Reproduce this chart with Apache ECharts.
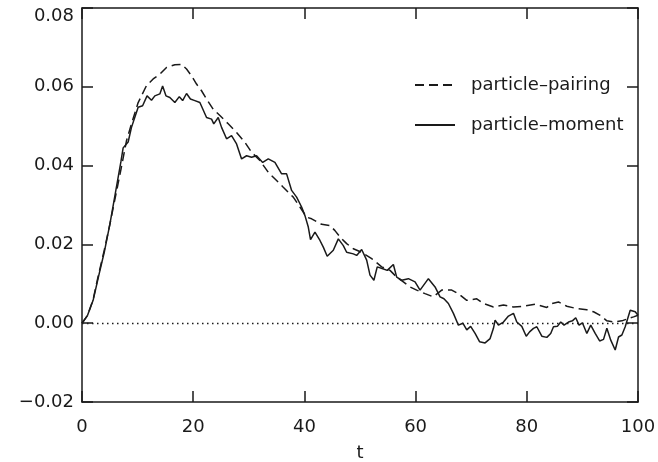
<!DOCTYPE html>
<html>
<head>
<meta charset="utf-8">
<script src="https://cdn.jsdelivr.net/npm/echarts@6/dist/echarts.min.js"></script>
<style>
  html, body { margin: 0; padding: 0; background: #fff; }
  #chart { width: 658px; height: 462px; }
</style>
</head>
<body>
<div id="chart"></div>
<script>
// particle-pairing (dashed)
const tPairing = [0, 1, 2, 3, 4, 5, 6, 7, 8, 8.9,
  10.1, 11.6, 12.8, 14, 15.2, 16.7, 17.9, 18.8, 19.7, 20.6,
  21.5, 22.4, 23.6, 24.8, 26.3, 27.8, 29.3, 30.5, 32, 33.5,
  35, 36.2, 38, 39.2, 40.4, 41.3, 43.1, 44.6, 45.5, 46.4,
  47.6, 48.8, 50.3, 52.1, 53.9, 55.4, 56.6, 57.8, 59, 60.2,
  61.7, 63.2, 64.7, 66.5, 67.7, 69.2, 71, 72.2, 74, 75.8,
  77.6, 79.4, 81.5, 83.6, 84.5, 85.7, 87.2, 89, 90.8, 92,
  93.2, 94.4, 95.6, 97.1, 98.3, 99.2, 100];
const vPairing = [0, 0.002, 0.006, 0.0125, 0.0185, 0.025, 0.032, 0.039, 0.0463, 0.0506,
  0.056, 0.0603, 0.062, 0.0632, 0.0649, 0.0656, 0.0657, 0.0645, 0.0628, 0.0607,
  0.059, 0.0569, 0.0543, 0.0527, 0.0506, 0.0484, 0.0459, 0.0434, 0.0413, 0.0383,
  0.0362, 0.0345, 0.032, 0.0295, 0.0269, 0.0265, 0.0251, 0.0248, 0.0235, 0.0219,
  0.0202, 0.0189, 0.018, 0.0164, 0.0143, 0.0134, 0.0117, 0.0105, 0.0092, 0.0084,
  0.0075, 0.0067, 0.0084, 0.0084, 0.0075, 0.0058, 0.0062, 0.005, 0.0041, 0.0046,
  0.0041, 0.0043, 0.0048, 0.004, 0.005, 0.0054, 0.0043, 0.0037, 0.0034, 0.0029,
  0.002, 0.0006, 0.0003, 0.0006, 0.0012, 0.0016, 0.002];

// particle-moment (solid)
const tMoment = [0, 1, 2, 3, 4, 5, 6, 7, 7.4, 8.3,
  8.9, 10.1, 10.9, 11.7, 12.5, 13.1, 14, 14.5, 15.1, 15.8,
  16.7, 17.5, 18.1, 18.8, 19.5, 20.3, 21.2, 22.4, 23.3, 23.7,
  24.5, 25.1, 26, 26.9, 27.8, 28.7, 29.6, 30.5, 31.4, 32.5,
  33.5, 34.7, 35.9, 36.8, 37.7, 38.6, 39.5, 40.1, 40.7, 41.1,
  41.9, 42.8, 43.4, 44.1, 45.2, 46.1, 47, 47.6, 48.8, 49.4,
  50.3, 51.2, 51.8, 52.5, 53.1, 54.1, 54.9, 56, 56.6, 57.5,
  58.7, 59.9, 60.8, 62.3, 63.5, 64.4, 65.1, 65.9, 66.8, 67.7,
  68.5, 69.2, 69.9, 70.7, 71.5, 72.5, 73.4, 74, 74.3, 74.9,
  75.8, 76.7, 77.6, 78.2, 79.1, 79.9, 80.5, 81.2, 81.8, 82.7,
  83.6, 84.3, 84.8, 85.5, 86.1, 86.7, 87.5, 88.2, 88.8, 89.4,
  90, 90.8, 91.5, 92.3, 93.1, 93.8, 94.4, 95.1, 95.9, 96.5,
  97.1, 97.7, 98.6, 99.5, 100];
const vMoment = [0, 0.002, 0.0058, 0.012, 0.018, 0.025, 0.033, 0.041, 0.0445, 0.046,
  0.0497, 0.0548, 0.0552, 0.0577, 0.0566, 0.0577, 0.0582, 0.0602, 0.0577, 0.0573,
  0.056, 0.0575, 0.0565, 0.0583, 0.0569, 0.0565, 0.056, 0.0522, 0.0518, 0.0506,
  0.0522, 0.0497, 0.0468, 0.0476, 0.0455, 0.0417, 0.0425, 0.0421, 0.0425, 0.0408,
  0.0417, 0.0408, 0.0379, 0.0379, 0.0337, 0.032, 0.0295, 0.0273, 0.0244, 0.0212,
  0.0231, 0.021, 0.0193, 0.017, 0.0185, 0.0214, 0.0197, 0.018, 0.0176, 0.0172,
  0.0187, 0.016, 0.0122, 0.0109, 0.0143, 0.0138, 0.0134, 0.0149, 0.0117, 0.0109,
  0.0113, 0.0105, 0.0084, 0.0113, 0.0092, 0.0067, 0.0062, 0.005, 0.0025, -0.0005,
  0, -0.0017, -0.0008, -0.0026, -0.0047, -0.005, -0.0039, -0.0013, 0.0008, -0.0005,
  0.0003, 0.0018, 0.0025, 0.0003, -0.0008, -0.0033, -0.0022, -0.0013, -0.0009, -0.0033,
  -0.0036, -0.0026, -0.0009, -0.0008, 0.0003, -0.0005, 0.0003, 0.0006, 0.0014, -0.0005,
  0.0001, -0.0026, -0.0005, -0.0026, -0.0045, -0.0041, -0.0013, -0.0043, -0.0068, -0.0035,
  -0.003, -0.0009, 0.0033, 0.0029, 0.002];

const seriesNames = ['particle–pairing', 'particle–moment'];
const xTicks = { min: 0, max: 100, interval: 20 };
const yTicks = { min: -0.02, max: 0.08, interval: 0.02 };

const FONT = 'DejaVu Sans';
const INK = '#1a1a1a';

const zip = (xs, ys) => xs.map((x, i) => [x, ys[i]]);

const axisLine = { show: true, onZero: false, lineStyle: { color: INK, width: 1.5 } };
const tickIn = { show: true, inside: true, length: 11, lineStyle: { color: INK, width: 1.5 } };

const chart = echarts.init(document.getElementById('chart'));
chart.setOption({
  animation: false,
  backgroundColor: '#fff',
  grid: { left: 82, right: 20, top: 8, bottom: 60, outerBoundsMode: 'none', containLabel: false },
  legend: {
    orient: 'vertical',
    left: 409,
    top: 71,
    itemWidth: 40,
    itemHeight: 14,
    itemGap: 22,
    selectedMode: false,
    data: seriesNames,
    itemStyle: { opacity: 0 },
    textStyle: { fontFamily: FONT, fontSize: 18, color: INK, padding: [0, 0, 0, 11] }
  },
  xAxis: [
    {
      type: 'value', position: 'bottom', ...xTicks,
      name: 't', nameLocation: 'middle', nameGap: 42,
      nameTextStyle: { fontFamily: FONT, fontSize: 18, color: INK },
      axisLine, axisTick: tickIn, splitLine: { show: false },
      axisLabel: { fontFamily: FONT, fontSize: 18, color: INK, margin: 16 }
    },
    {
      type: 'value', position: 'top', ...xTicks,
      axisLine, axisTick: tickIn, splitLine: { show: false },
      axisLabel: { show: false }
    }
  ],
  yAxis: [
    {
      type: 'value', position: 'left', ...yTicks,
      axisLine, axisTick: tickIn, splitLine: { show: false },
      axisLabel: {
        fontFamily: FONT, fontSize: 18, color: INK, margin: 8,
        formatter: v => {
          const s = (v < -1e-9 ? '\u2212' : '') + Math.abs(v).toFixed(2);
          return v > yTicks.max - 1e-9 ? '{top|' + s + '}' : s;
        },
        rich: {
          top: { fontFamily: FONT, fontSize: 18, color: INK, padding: [16, 0, 0, 0] }
        }
      }
    },
    {
      type: 'value', position: 'right', ...yTicks,
      axisLine, axisTick: tickIn, splitLine: { show: false },
      axisLabel: { show: false }
    }
  ],
  series: [
    {
      name: seriesNames[0],
      type: 'line',
      xAxisIndex: 0, yAxisIndex: 0,
      data: zip(tPairing, vPairing),
      symbol: 'none',
      lineStyle: { color: INK, width: 1.5, type: [9, 5] },
      itemStyle: { color: INK },
      markLine: {
        silent: true,
        symbol: ['none', 'none'],
        label: { show: false },
        lineStyle: { color: INK, width: 1.3, type: [1.5, 3.5] },
        data: [{ yAxis: 0 }]
      }
    },
    {
      name: seriesNames[1],
      type: 'line',
      xAxisIndex: 0, yAxisIndex: 0,
      data: zip(tMoment, vMoment),
      symbol: 'none',
      lineStyle: { color: INK, width: 1.5 },
      itemStyle: { color: INK }
    }
  ]
});
</script>
</body>
</html>
